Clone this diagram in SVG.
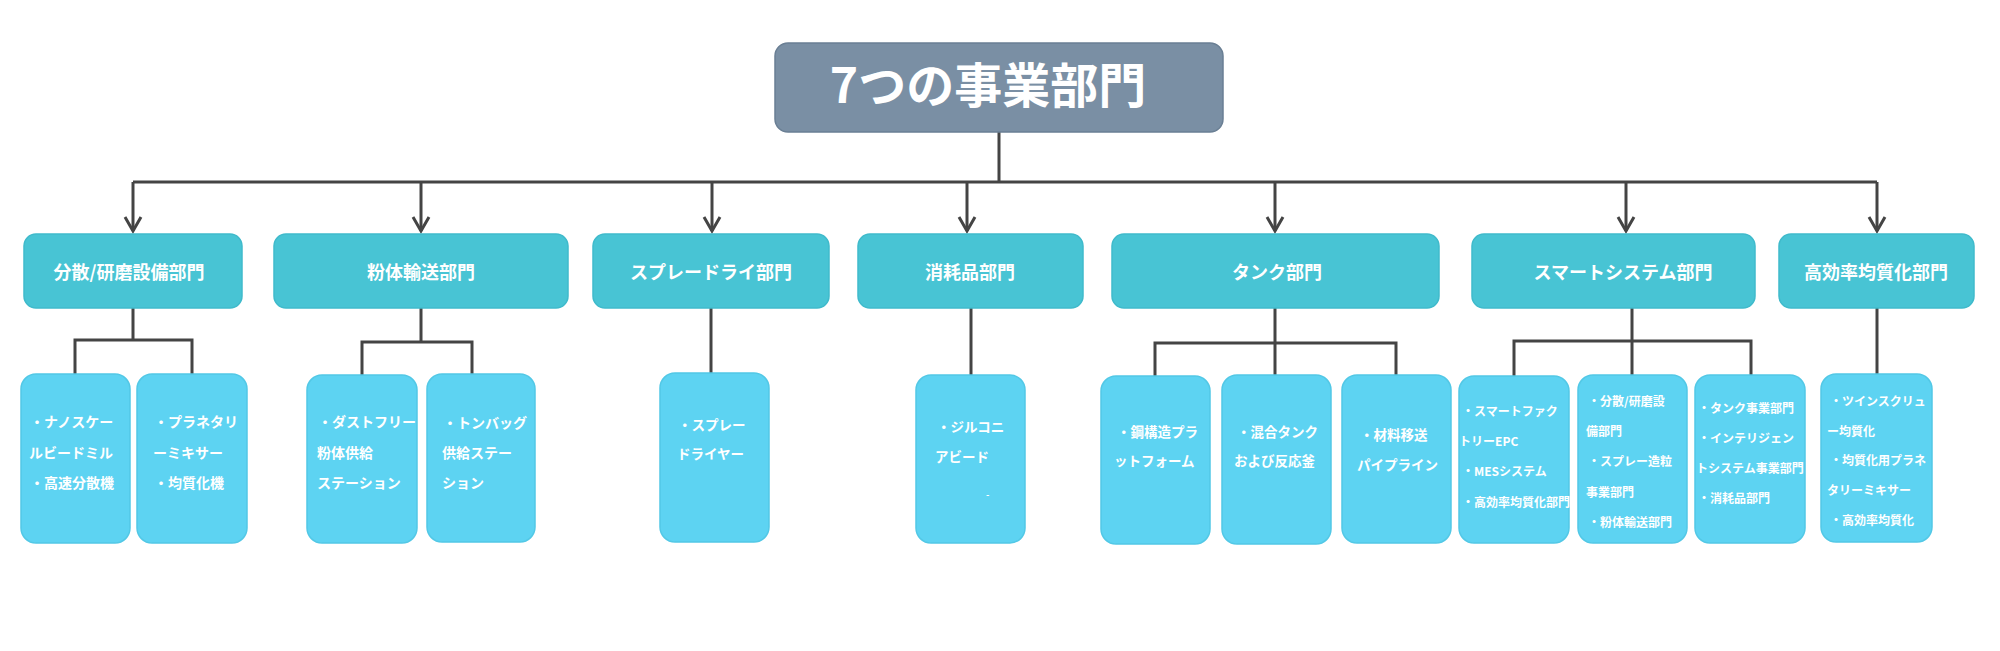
<svg xmlns="http://www.w3.org/2000/svg" width="2000" height="651" viewBox="0 0 2000 651">
<defs>
<style>
.top{fill:#7a8fa4;stroke:#6a7f94;stroke-width:1.5}
.dept{fill:#48c4d4;stroke:#3fbacb;stroke-width:1.5}
.leaf{fill:#5dd3f2;stroke:#52c8e6;stroke-width:1.5}
text{font-family:"Noto Sans CJK JP","Noto Sans",sans-serif;font-weight:bold;fill:#ffffff}
.tt{font-size:48px}
.dt{font-size:18px;text-anchor:middle}
.lt{font-size:14px}
.lm{font-size:13.5px}
.ls{font-size:12px}
.ln{fill:none;stroke:#444444;stroke-width:3}
</style>
<marker id="arr" markerUnits="userSpaceOnUse" markerWidth="24" markerHeight="24" refX="0" refY="0" viewBox="-16 -12 20 24" orient="auto">
<path d="M-14,-8 L0,0 L-14,8" fill="none" stroke="#444444" stroke-width="3"/>
</marker>
</defs>
<rect width="2000" height="651" fill="#ffffff"/>

<g id="connectors">
<path class="ln" d="M999,132 V182 M133,182 H1877"/>
<path class="ln" d="M133,182 V231" marker-end="url(#arr)"/>
<path class="ln" d="M421,182 V231" marker-end="url(#arr)"/>
<path class="ln" d="M712,182 V231" marker-end="url(#arr)"/>
<path class="ln" d="M967,182 V231" marker-end="url(#arr)"/>
<path class="ln" d="M1275,182 V231" marker-end="url(#arr)"/>
<path class="ln" d="M1626,182 V231" marker-end="url(#arr)"/>
<path class="ln" d="M1877,182 V231" marker-end="url(#arr)"/>
<path class="ln" d="M133,308 V340 M75,374 V340 H192 V374"/>
<path class="ln" d="M421,308 V342 M362,375 V342 H472 V375"/>
<path class="ln" d="M711,308 V374"/>
<path class="ln" d="M971,308 V376"/>
<path class="ln" d="M1275,308 V376 M1155,376 V343 H1396 V376"/>
<path class="ln" d="M1632,308 V376 M1514,376 V341 H1751 V376"/>
<path class="ln" d="M1877,308 V374"/>
</g>

<g id="root">
<rect class="top" x="775" y="43" width="448" height="89" rx="13"/>
<text class="tt" x="988" y="103" text-anchor="middle">7つの事業部門</text>
</g>

<g id="dept1">
<rect class="dept" x="24" y="234" width="218" height="74" rx="12"/>
<text class="dt" x="129" y="279">分散/研磨設備部門</text>
</g>
<g id="dept2">
<rect class="dept" x="274" y="234" width="294" height="74" rx="12"/>
<text class="dt" x="421" y="279">粉体輸送部門</text>
</g>
<g id="dept3">
<rect class="dept" x="593" y="234" width="236" height="74" rx="12"/>
<text class="dt" x="711" y="279">スプレードライ部門</text>
</g>
<g id="dept4">
<rect class="dept" x="858" y="234" width="225" height="74" rx="12"/>
<text class="dt" x="970" y="279">消耗品部門</text>
</g>
<g id="dept5">
<rect class="dept" x="1112" y="234" width="327" height="74" rx="12"/>
<text class="dt" x="1277" y="279">タンク部門</text>
</g>
<g id="dept6">
<rect class="dept" x="1472" y="234" width="283" height="74" rx="12"/>
<text class="dt" x="1623" y="279">スマートシステム部門</text>
</g>
<g id="dept7">
<rect class="dept" x="1779" y="234" width="195" height="74" rx="12"/>
<text class="dt" x="1876" y="279">高効率均質化部門</text>
</g>

<g id="leaf1a">
<rect class="leaf" x="21" y="374" width="109" height="169" rx="15"/>
<text class="lt" x="30" y="427">・ナノスケー</text>
<text class="lt" x="29" y="458">ルビードミル</text>
<text class="lt" x="30" y="488">・高速分散機</text>
</g>
<g id="leaf1b">
<rect class="leaf" x="137" y="374" width="110" height="169" rx="15"/>
<text class="lt" x="154" y="427">・プラネタリ</text>
<text class="lt" x="153" y="458">ーミキサー</text>
<text class="lt" x="154" y="488">・均質化機</text>
</g>
<g id="leaf2a">
<rect class="leaf" x="307" y="375" width="110" height="168" rx="15"/>
<text class="lt" x="318" y="427">・ダストフリー</text>
<text class="lt" x="317" y="458">粉体供給</text>
<text class="lt" x="317" y="488">ステーション</text>
</g>
<g id="leaf2b">
<rect class="leaf" x="427" y="374" width="108" height="168" rx="15"/>
<text class="lt" x="443" y="428">・トンバッグ</text>
<text class="lt" x="442" y="458">供給ステー</text>
<text class="lt" x="442" y="488">ション</text>
</g>
<g id="leaf3">
<rect class="leaf" x="660" y="373" width="109" height="169" rx="15"/>
<text class="lm" x="678" y="430">・スプレー</text>
<text class="lm" x="677" y="459">ドライヤー</text>
</g>
<g id="leaf4">
<rect class="leaf" x="916" y="375" width="109" height="168" rx="15"/>
<text class="lm" x="937" y="432">・ジルコニ</text>
<text class="lm" x="935" y="462">アビード</text>
<text x="986" y="498" style="font-size:9px">-</text>
</g>
<g id="leaf5a">
<rect class="leaf" x="1101" y="376" width="109" height="168" rx="15"/>
<text class="lm" x="1117" y="437">・鋼構造プラ</text>
<text class="lm" x="1114" y="466">ットフォーム</text>
</g>
<g id="leaf5b">
<rect class="leaf" x="1222" y="375" width="109" height="169" rx="15"/>
<text class="lm" x="1237" y="437">・混合タンク</text>
<text class="lm" x="1234" y="466">および反応釜</text>
</g>
<g id="leaf5c">
<rect class="leaf" x="1342" y="375" width="109" height="168" rx="15"/>
<text class="lm" x="1360" y="440">・材料移送</text>
<text class="lm" x="1357" y="470">パイプライン</text>
</g>
<g id="leaf6a">
<rect class="leaf" x="1459" y="376" width="110" height="167" rx="15"/>
<text class="ls" x="1462" y="416">・スマートファク</text>
<text class="ls" x="1459" y="446">トリーEPC</text>
<text class="ls" x="1462" y="476">・MESシステム</text>
<text class="ls" x="1462" y="507">・高効率均質化部門</text>
</g>
<g id="leaf6b">
<rect class="leaf" x="1578" y="375" width="109" height="168" rx="15"/>
<text class="ls" x="1588" y="406">・分散/研磨設</text>
<text class="ls" x="1586" y="436">備部門</text>
<text class="ls" x="1588" y="466">・スプレー造粒</text>
<text class="ls" x="1586" y="497">事業部門</text>
<text class="ls" x="1588" y="527">・粉体輸送部門</text>
</g>
<g id="leaf6c">
<rect class="leaf" x="1695" y="375" width="110" height="168" rx="15"/>
<text class="ls" x="1698" y="413">・タンク事業部門</text>
<text class="ls" x="1698" y="443">・インテリジェン</text>
<text class="ls" x="1696" y="473">トシステム事業部門</text>
<text class="ls" x="1698" y="503">・消耗品部門</text>
</g>
<g id="leaf7">
<rect class="leaf" x="1821" y="374" width="111" height="168" rx="15"/>
<text class="ls" x="1830" y="406">・ツインスクリュ</text>
<text class="ls" x="1827" y="436">ー均質化</text>
<text class="ls" x="1830" y="465">・均質化用プラネ</text>
<text class="ls" x="1827" y="495">タリーミキサー</text>
<text class="ls" x="1830" y="525">・高効率均質化</text>
</g>
</svg>
